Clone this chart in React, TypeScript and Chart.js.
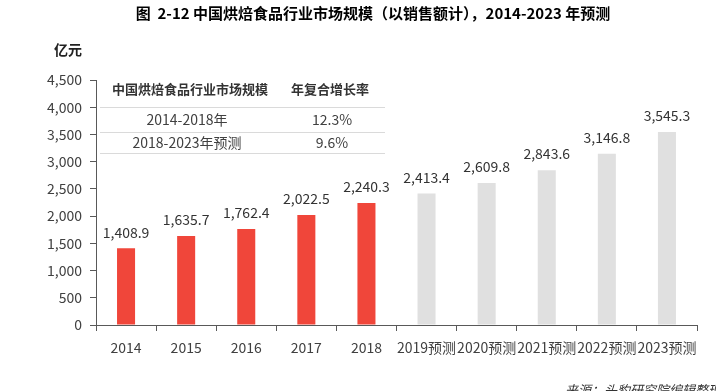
import React, { useEffect, useRef } from "react";
import { Chart, registerables } from "chart.js";

Chart.register(...registerables);

const categories = ["2014", "2015", "2016", "2017", "2018", "2019预测", "2020预测", "2021预测", "2022预测", "2023预测"];
const marketSize = [1408.9, 1635.7, 1762.4, 2022.5, 2240.3, 2413.4, 2609.8, 2843.6, 3146.8, 3545.3];
const barColors = ["#F0463A", "#F0463A", "#F0463A", "#F0463A", "#F0463A", "#E0E0E0", "#E0E0E0", "#E0E0E0", "#E0E0E0", "#E0E0E0"];
const titleText = "图  2-12 中国烘焙食品行业市场规模（以销售额计），2014-2023 年预测";
const unitText = "亿元";
const sourceText = "来源：头豹研究院编辑整理";
const tableHeader = ["中国烘焙食品行业市场规模", "年复合增长率"];
const tablePeriods = ["2014-2018年", "2018-2023年预测"];
const tableRates = ["12.3%", "9.6%"];

const FONT = "'Noto Sans CJK SC', 'Noto Sans', sans-serif";

const fmt = (v: number) =>
  v.toLocaleString("en-US", { minimumFractionDigits: 1, maximumFractionDigits: 1 });

const extrasPlugin = {
  id: "extras",
  afterDatasetsDraw(chart: any) {
    const ctx = chart.ctx;
    ctx.save();
    // data labels
    const meta = chart.getDatasetMeta(0);
    ctx.fillStyle = "#333333";
    ctx.font = `14px ${FONT}`;
    ctx.textAlign = "center";
    ctx.textBaseline = "middle";
    meta.data.forEach((el: any, i: number) => {
      ctx.fillText(fmt(marketSize[i]), el.x, el.y - 16);
    });
    // title
    ctx.fillStyle = "#000000";
    ctx.font = `bold 15px ${FONT}`;
    ctx.fillText(titleText, 373, 13);
    // unit
    ctx.font = `bold 14px ${FONT}`;
    ctx.fillStyle = "#222222";
    ctx.fillText(unitText, 68, 50);
    // table
    ctx.strokeStyle = "#DADADA";
    ctx.lineWidth = 1;
    [107.5, 132.5, 153.5].forEach((y) => {
      ctx.beginPath();
      ctx.moveTo(100, y);
      ctx.lineTo(385, y);
      ctx.stroke();
    });
    ctx.fillStyle = "#333333";
    ctx.font = `bold 13px ${FONT}`;
    ctx.fillText(tableHeader[0], 190, 89);
    ctx.fillText(tableHeader[1], 330, 89);
    ctx.font = `14px ${FONT}`;
    ctx.fillStyle = "#404040";
    tablePeriods.forEach((p, i) => {
      const y = i === 0 ? 120 : 143;
      ctx.fillText(p, 187, y);
      ctx.fillText(tableRates[i], 332, y);
    });
    // source
    ctx.font = `italic 13px ${FONT}`;
    ctx.fillStyle = "#333333";
    ctx.textAlign = "left";
    ctx.fillText(sourceText, 565, 390);
    ctx.restore();
  },
};

export default function App() {
  const ref = useRef<HTMLCanvasElement>(null);
  useEffect(() => {
    if (!ref.current) return;
    const chart = new Chart(ref.current, {
      type: "bar",
      data: {
        labels: categories,
        datasets: [
          {
            data: marketSize,
            backgroundColor: barColors,
            barPercentage: 0.3,
            categoryPercentage: 1,
          },
        ],
      },
      options: {
        responsive: false,
        animation: false,
        devicePixelRatio: 1,
        layout: { padding: { top: 80, right: 19, left: 0, bottom: 0 } },
        plugins: { legend: { display: false }, tooltip: { enabled: false }, title: { display: false } },
        scales: {
          x: {
            afterFit: (s: any) => {
              s.height = 66;
            },
            grid: {
              offset: true,
              drawOnChartArea: false,
              drawTicks: true,
              tickLength: 6,
              color: "#595959",
            },
            border: { color: "#595959", width: 1 },
            ticks: { color: "#404040", font: { size: 14, family: FONT }, padding: 8, maxRotation: 0, autoSkip: false },
          },
          y: {
            min: 0,
            max: 4500,
            afterFit: (s: any) => {
              s.width = 96;
            },
            grid: { drawOnChartArea: false, drawTicks: true, tickLength: 6, color: "#595959" },
            border: { color: "#595959", width: 1 },
            ticks: {
              stepSize: 500,
              color: "#404040",
              font: { size: 14, family: FONT },
              padding: 8,
              callback: (v: any) => Number(v).toLocaleString("en-US"),
            },
          },
        },
      },
      plugins: [extrasPlugin],
    });
    return () => chart.destroy();
  }, []);
  return (
    <div style={{ position: "absolute", left: 0, top: 0, width: 716, height: 391, background: "#fff" }}>
      <canvas ref={ref} width={716} height={391} style={{ width: 716, height: 391, display: "block" }} />
    </div>
  );
}
